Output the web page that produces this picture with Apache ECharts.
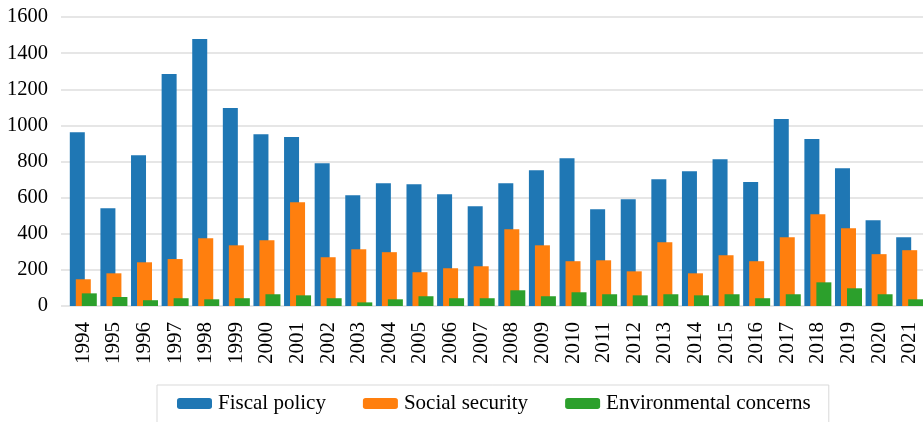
<!DOCTYPE html>
<html>
<head>
<meta charset="utf-8">
<script src="https://cdn.jsdelivr.net/npm/echarts@6/dist/echarts.min.js"></script>
<style>
html,body{margin:0;padding:0;background:#fff;}
#chart{width:923px;height:422px;}
</style>
</head>
<body>
<div id="chart"></div>
<script>
const years = ['1994','1995','1996','1997','1998','1999','2000','2001','2002','2003','2004','2005','2006','2007','2008','2009','2010','2011','2012','2013','2014','2015','2016','2017','2018','2019','2020','2021'];
const fiscalPolicy = [962,541,835,1284,1478,1096,951,935,791,613,680,674,619,552,680,752,818,536,591,702,746,813,686,1035,924,763,475,381];
const socialSecurity = [148,181,242,260,375,336,364,575,270,314,298,187,209,220,425,336,248,253,192,353,181,281,248,381,508,431,287,309];
const environmentalConcerns = [70,50,32,43,37,43,65,59,43,20,37,54,43,43,87,54,76,65,59,65,59,65,43,65,131,98,65,37];
const yTicks = {min:0, max:1600, interval:200};

const font = 'Liberation Serif, Times New Roman, serif';
const chart = echarts.init(document.getElementById('chart'), null, {renderer:'canvas'});
const barBase = {type:'bar', barWidth:15, barGap:'-60%', animation:false};
chart.setOption({
  animation:false,
  grid:[
    {left:68, width:857, top:17, height:289, containLabel:false, outerBoundsMode:'none'},
    {left:61, right:0, top:17, height:289, containLabel:false, outerBoundsMode:'none'}
  ],
  legend:{
    left:157, top:385,
    padding:[8,18,12,20],
    borderColor:'#d9d9d9', borderWidth:1,
    itemWidth:35, itemHeight:11, itemGap:37,
    textStyle:{fontFamily:font, fontSize:21, color:'#000', padding:[0,0,0,1]},
    data:['Fiscal policy','Social security','Environmental concerns']
  },
  xAxis:[
    {
      type:'category', data:years, gridIndex:0, z:3,
      axisLine:{show:false},
      axisTick:{show:false},
      axisLabel:{rotate:90, margin:16, fontFamily:font, fontSize:21, color:'#000', interval:0}
    },
    {type:'value', gridIndex:1, show:false}
  ],
  yAxis:[
    {
      type:'value', gridIndex:0, min:yTicks.min, max:yTicks.max, interval:yTicks.interval,
      axisLine:{show:false}, axisTick:{show:false},
      splitLine:{show:false},
      axisLabel:{margin:20, fontFamily:font, fontSize:20.5, color:'#000', formatter:function(v){return String(v);}}
    },
    {
      type:'value', gridIndex:1, min:yTicks.min, max:yTicks.max, interval:yTicks.interval,
      axisLine:{show:false}, axisTick:{show:false}, axisLabel:{show:false},
      splitLine:{lineStyle:{color:'#dedede', width:1.5}}
    }
  ],
  series:[
    Object.assign({name:'Fiscal policy', data:fiscalPolicy, itemStyle:{color:'#1f77b4'}}, barBase),
    Object.assign({name:'Social security', data:socialSecurity, itemStyle:{color:'#ff7f0e'}}, barBase),
    Object.assign({name:'Environmental concerns', data:environmentalConcerns, itemStyle:{color:'#2ca02c'}}, barBase)
  ]
});
</script>
</body>
</html>
